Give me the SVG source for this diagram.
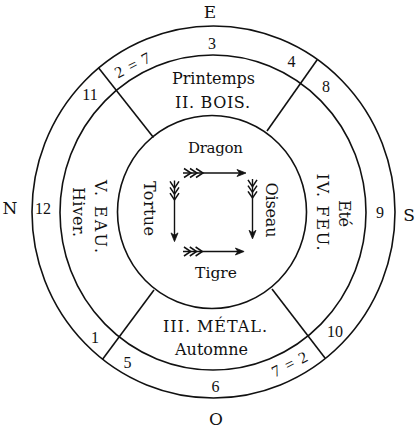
<svg xmlns="http://www.w3.org/2000/svg" width="420" height="430" viewBox="0 0 420 430">
<style>
.ring{fill:none;stroke:#111;stroke-width:1.6}
.div{stroke:#111;stroke-width:1.6}
.t{font-family:"DejaVu Serif","Liberation Serif",serif;font-size:16px;fill:#111;text-anchor:middle}
.c{font-family:"DejaVu Serif","Liberation Serif",serif;font-size:17px;fill:#111;text-anchor:middle}
.n{font-family:"Liberation Serif","DejaVu Serif",serif;font-size:16px;fill:#111;text-anchor:middle}
.sh{stroke:#111;stroke-width:1.4;fill:none}
.fl{stroke:#111;stroke-width:1.5;fill:none}
.hd{fill:#111;stroke:#111;stroke-width:0.8}
</style>
<defs>
<g id="arrow">
<line class="sh" x1="0" y1="0" x2="60" y2="0"/>
<polyline class="fl" points="1,-4.5 8,0 1,4.5"/>
<polyline class="fl" points="7,-4.5 14,0 7,4.5"/>
<polyline class="fl" points="13,-4.5 20,0 13,4.5"/>
<polygon class="hd" points="63,0 54,-3.5 56.5,0 54,3.5"/>
</g>
</defs>
<rect width="420" height="430" fill="#fff"/>

<g id="rings">
<ellipse class="ring" cx="213.5" cy="212" rx="181.5" ry="186"/>
<ellipse class="ring" cx="213" cy="212.5" rx="153" ry="157.5"/>
<ellipse class="ring" cx="212" cy="212" rx="94.5" ry="96.5"/>
</g>

<g id="dividers">
<line class="div" x1="98.5" y1="67.7" x2="153.5" y2="137.5"/>
<line class="div" x1="317.2" y1="59.7" x2="267" y2="131"/>
<line class="div" x1="102.4" y1="359.5" x2="154" y2="290"/>
<line class="div" x1="325.2" y1="358.2" x2="272" y2="289"/>
</g>

<g id="compass">
<text class="c" x="210" y="17.5">E</text>
<text class="c" x="10" y="214">N</text>
<text class="c" x="409" y="221">S</text>
<text class="c" x="216" y="424.5">O</text>
</g>

<g id="numbers">
<text class="n" x="212" y="49">3</text>
<text class="n" x="291.5" y="67">4</text>
<text class="n" x="326" y="92">8</text>
<text class="n" x="90" y="100">11</text>
<text class="n" transform="translate(132.5,65) rotate(-27)" x="0" y="5.5" textLength="38" lengthAdjust="spacing">2=7</text>
<text class="n" x="43" y="213.5">12</text>
<text class="n" x="380" y="218">9</text>
<text class="n" x="95" y="343">1</text>
<text class="n" x="127.5" y="368">5</text>
<text class="n" x="215.5" y="391.5">6</text>
<text class="n" transform="translate(289.5,364) rotate(-27)" x="0" y="5.5" textLength="38" lengthAdjust="spacing">7=2</text>
<text class="n" x="335" y="337">10</text>
</g>

<g id="bois">
<text class="t" x="213.5" y="84" textLength="83" lengthAdjust="spacing">Printemps</text>
<text class="t" x="212.5" y="108" textLength="75" lengthAdjust="spacing">II. BOIS.</text>
</g>

<g id="feu">
<text class="t" transform="translate(343.5,213.5) rotate(90)" x="0" y="5" textLength="27" lengthAdjust="spacing">Eté</text>
<text class="t" transform="translate(322,212) rotate(90)" x="0" y="5.5" textLength="77" lengthAdjust="spacing">IV. FEU.</text>
</g>

<g id="metal">
<text class="t" x="215" y="332" textLength="104" lengthAdjust="spacing">III. MÉTAL.</text>
<text class="t" x="211.5" y="355" textLength="73" lengthAdjust="spacing">Automne</text>
</g>

<g id="eau">
<text class="t" transform="translate(100,216.5) rotate(90)" x="0" y="5.5" textLength="73" lengthAdjust="spacing">V. EAU.</text>
<text class="t" transform="translate(78.5,212) rotate(90)" x="0" y="5.5" textLength="50" lengthAdjust="spacing">Hiver.</text>
</g>

<g id="animals">
<text class="t" x="215.5" y="153" style="font-size:15px" textLength="55" lengthAdjust="spacing">Dragon</text>
<text class="t" x="216" y="278" style="font-size:15.5px" textLength="42" lengthAdjust="spacing">Tigre</text>
<text class="t" transform="translate(149,208.5) rotate(90)" x="0" y="5" textLength="55" lengthAdjust="spacing">Tortue</text>
<text class="t" transform="translate(271,210) rotate(90)" x="0" y="5" textLength="55" lengthAdjust="spacing">Oiseau</text>
</g>

<g id="connectors">
<use href="#arrow" transform="translate(183,173)"/>
<use href="#arrow" transform="translate(174.5,180.5) rotate(90) scale(0.97,1)"/>
<use href="#arrow" transform="translate(252.5,179) rotate(90) scale(0.95,1)"/>
<use href="#arrow" transform="translate(183,251.5) scale(0.97,1)"/>
</g>
</svg>
